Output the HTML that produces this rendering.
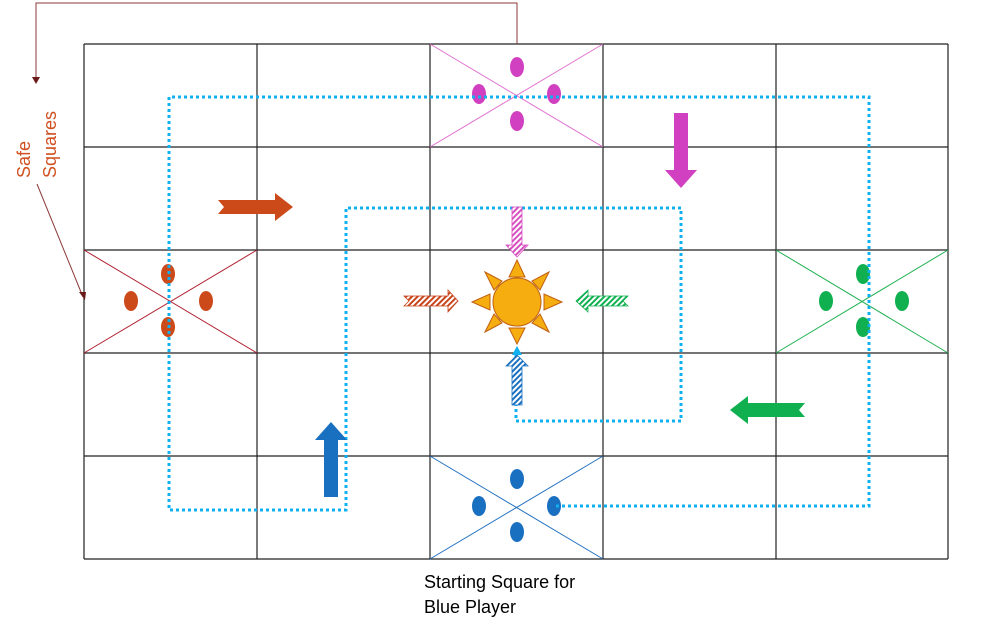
<!DOCTYPE html>
<html><head><style>body{margin:0;background:#fff}svg{display:block}</style></head><body>
<svg width="986" height="634" viewBox="0 0 986 634" xmlns="http://www.w3.org/2000/svg">
<defs>
<pattern id="hm" width="4" height="4" patternUnits="userSpaceOnUse" patternTransform="rotate(45)"><rect width="4" height="4" fill="#fff"/><rect width="2" height="4" fill="#d84fc0"/></pattern>
<pattern id="ho" width="4" height="4" patternUnits="userSpaceOnUse" patternTransform="rotate(45)"><rect width="4" height="4" fill="#fff"/><rect width="2" height="4" fill="#c8441a"/></pattern>
<pattern id="hg" width="4" height="4" patternUnits="userSpaceOnUse" patternTransform="rotate(45)"><rect width="4" height="4" fill="#fff"/><rect width="2" height="4" fill="#10b050"/></pattern>
<pattern id="hb" width="4" height="4" patternUnits="userSpaceOnUse" patternTransform="rotate(45)"><rect width="4" height="4" fill="#fff"/><rect width="2" height="4" fill="#1a70c0"/></pattern>
</defs>
<g stroke="#222" stroke-width="1.2">
<line x1="84" y1="44" x2="948" y2="44"/><line x1="84" y1="147" x2="948" y2="147"/><line x1="84" y1="250" x2="948" y2="250"/><line x1="84" y1="353" x2="948" y2="353"/><line x1="84" y1="456" x2="948" y2="456"/><line x1="84" y1="559" x2="948" y2="559"/>
<line x1="84" y1="44" x2="84" y2="559"/><line x1="257" y1="44" x2="257" y2="559"/><line x1="430" y1="44" x2="430" y2="559"/><line x1="603" y1="44" x2="603" y2="559"/><line x1="776" y1="44" x2="776" y2="559"/><line x1="948" y1="44" x2="948" y2="559"/>
</g>
<g stroke="#e070d0"><line x1="430" y1="44" x2="603" y2="147"/><line x1="603" y1="44" x2="430" y2="147"/></g>
<g stroke="#b02030"><line x1="84" y1="250" x2="257" y2="353"/><line x1="257" y1="250" x2="84" y2="353"/></g>
<g stroke="#20b050"><line x1="776" y1="250" x2="948" y2="353"/><line x1="948" y1="250" x2="776" y2="353"/></g>
<g stroke="#2070c0"><line x1="430" y1="456" x2="603" y2="559"/><line x1="603" y1="456" x2="430" y2="559"/></g>
<g fill="#d040c0"><ellipse cx="517" cy="67" rx="7" ry="10"/><ellipse cx="517" cy="121" rx="7" ry="10"/><ellipse cx="479" cy="94" rx="7" ry="10"/><ellipse cx="554" cy="94" rx="7" ry="10"/></g>
<g fill="#cc4a1a"><ellipse cx="168" cy="274" rx="7" ry="10"/><ellipse cx="168" cy="327" rx="7" ry="10"/><ellipse cx="131" cy="301" rx="7" ry="10"/><ellipse cx="206" cy="301" rx="7" ry="10"/></g>
<g fill="#10b050"><ellipse cx="863" cy="274" rx="7" ry="10"/><ellipse cx="863" cy="327" rx="7" ry="10"/><ellipse cx="826" cy="301" rx="7" ry="10"/><ellipse cx="902" cy="301" rx="7" ry="10"/></g>
<g fill="#1a70c0"><ellipse cx="517" cy="479" rx="7" ry="10"/><ellipse cx="517" cy="532" rx="7" ry="10"/><ellipse cx="479" cy="506" rx="7" ry="10"/><ellipse cx="554" cy="506" rx="7" ry="10"/></g>
<polyline points="556,506 869,506 869,97 169,97 169,510 346,510 346,208 681,208 681,421 516,421 516,352" fill="none" stroke="#10b0f0" stroke-width="3" stroke-dasharray="3,3"/>
<polygon points="218,200 275,200 275,193 293,207 275,221 275,214 218,214 224,207" fill="#cc4a1a"/>
<polygon points="674,113 688,113 688,170 697,170 681,188 665,170 674,170" fill="#d040c0"/>
<polygon points="805,403 748,403 748,396 730,410 748,424 748,417 805,417 799,410" fill="#10b050"/>
<polygon points="324,497 338,497 338,440 347,440 331,422 315,440 324,440" fill="#1a70c0"/>
<polygon points="404,296 448,296 448,290 458,301 448,312 448,306 404,306 409,301" fill="url(#ho)" stroke="#c8441a" stroke-width="0.8"/>
<polygon points="628,296 588,296 588,290 576,301 588,312 588,306 628,306 623,301" fill="url(#hg)" stroke="#10b050" stroke-width="0.8"/>
<polygon points="512,207 522,207 522,245 528,245 517,257 506,245 512,245" fill="url(#hm)" stroke="#d84fc0" stroke-width="0.8"/>
<polygon points="512,405 522,405 522,366 528,366 517,355 506,366 512,366" fill="url(#hb)" stroke="#1a70c0" stroke-width="0.8"/>
<polygon points="512,355 522,355 517,346" fill="#10b0f0"/>
<g fill="#f5ad10" stroke="#c06010" stroke-width="1">
<circle cx="517" cy="302" r="24"/>
<polygon points="517,260 525,277 509,277"/><polygon points="517,344 525,328 509,328"/>
<polygon points="472,302 490,294 490,310"/><polygon points="562,302 544,294 544,310"/>
<polygon points="485,272 502,281 494,290"/><polygon points="549,272 532,281 540,290"/>
<polygon points="485,332 502,323 494,314"/><polygon points="549,332 532,323 540,314"/>
</g>
<polyline points="517,44 517,3 36,3 36,80" fill="none" stroke="#8b3a3a" stroke-width="1"/>
<polygon points="32,77 40,77 36,84" fill="#6b1a1a"/>
<line x1="37" y1="184" x2="83" y2="297" stroke="#8b3a3a" stroke-width="1"/>
<polygon points="79,292 85,300 86,292" fill="#6b1a1a"/>
<text transform="translate(30,178) rotate(-90)" font-family="Liberation Sans, sans-serif" font-size="18" fill="#d05020">Safe</text>
<text transform="translate(56,178) rotate(-90)" font-family="Liberation Sans, sans-serif" font-size="18" fill="#d05020">Squares</text>
<text x="424" y="588" font-family="Liberation Sans, sans-serif" font-size="18" fill="#000">Starting Square for</text>
<text x="424" y="613" font-family="Liberation Sans, sans-serif" font-size="18" fill="#000">Blue Player</text>
</svg>
</body></html>
